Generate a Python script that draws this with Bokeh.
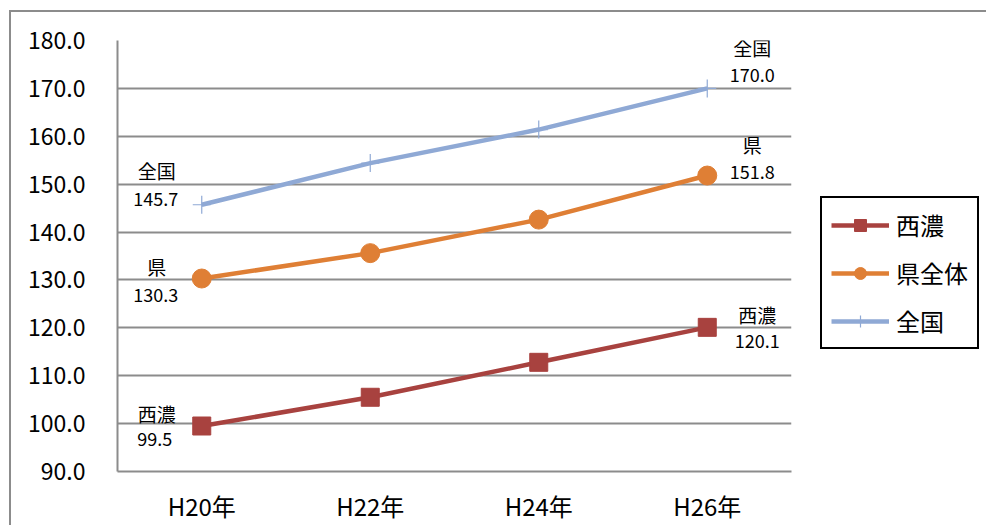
from bokeh.plotting import figure
from bokeh.models import (FactorRange, Range1d, FixedTicker, NumeralTickFormatter,
                          Legend, LegendItem, ColumnDataSource)
from bokeh.core.properties import value
from bokeh.embed import file_html
from bokeh.resources import INLINE

# ---- data ----
years = ["H20年", "H22年", "H24年", "H26年"]
seino = [99.5, 105.5, 112.8, 120.1]
ken = [130.3, 135.6, 142.6, 151.8]
zenkoku = [145.7, 154.4, 161.4, 170.0]
y_ticks = [90, 100, 110, 120, 130, 140, 150, 160, 170, 180]

series_names = ["西濃", "県全体", "全国"]
label_names = ["西濃", "県", "全国"]

JP = "Noto Sans CJK JP"

p = figure(x_range=FactorRange(factors=years), y_range=Range1d(90, 180),
           frame_width=674, frame_height=431,
           min_border_left=106, min_border_right=190, min_border_top=28, min_border_bottom=40,
           output_backend="svg", toolbar_location=None)
p.styles = {"border-left": "2px solid #8c8c8c", "border-top": "2px solid #8c8c8c",
            "margin-left": "9px", "margin-top": "10px"}
p.outline_line_color = None
p.background_fill_color = "white"
p.border_fill_color = "white"

# axes
p.yaxis.ticker = FixedTicker(ticks=y_ticks)
p.yaxis.formatter = NumeralTickFormatter(format="0.0")
p.yaxis.major_label_text_font = JP
p.yaxis.major_label_text_font_size = "23px"
p.yaxis.major_label_text_color = "black"
p.yaxis.major_tick_out = 0
p.yaxis.major_tick_in = 0
p.yaxis.minor_tick_out = 0
p.yaxis.minor_tick_in = 0
p.yaxis.major_label_standoff = 32
p.yaxis.axis_line_color = "#8c8c8c"
p.yaxis.axis_line_width = 2

p.xaxis.major_label_text_font = JP
p.xaxis.major_label_text_font_size = "24px"
p.xaxis.major_label_text_color = "black"
p.xaxis.major_tick_out = 0
p.xaxis.major_tick_in = 0
p.xaxis.major_label_standoff = 16
p.xaxis.axis_line_color = "#8c8c8c"
p.xaxis.axis_line_width = 2

p.xgrid.grid_line_color = None
p.ygrid.grid_line_color = "#8c8c8c"
p.ygrid.grid_line_width = 2

colors = ["#A8423F", "#DF7F35", "#8FA9D5"]
markers = ["square", "circle", "cross"]
msizes = [18, 19, 18]
all_vals = [seino, ken, zenkoku]

items = []
for name, vals, c, m, ms in zip(series_names, all_vals, colors, markers, msizes):
    ln = p.line(x=years, y=vals, line_color=c, line_width=4.5)
    if m == "cross":
        sc = p.scatter(x=years, y=vals, marker=m, size=ms, line_color=c, line_width=1.2)
    else:
        sc = p.scatter(x=years, y=vals, marker=m, size=ms, fill_color=c, line_color=c)
    items.append(LegendItem(label=name, renderers=[ln, sc]))

# data labels (name + value) at first and last point
# style offsets in screen px: (name_dx, name_dy, value_dx, value_dy), dy positive = down
label_offsets = {
    ("西濃", 0): (-45, -13, -47, 13),
    ("県", 0): (-45, -12, -46, 16),
    ("全国", 0): (-45, -34, -46, -6),
    ("西濃", 3): (50, -13, 50, 14),
    ("県", 3): (45, -31, 45, -4),
    ("全国", 3): (45, -41, 45, -13),
}
lx, ly, lt, ldx, ldy = [], [], [], [], []
vx, vy, vt, vdx, vdy = [], [], [], [], []
for lname, vals in zip(label_names, all_vals):
    for idx in (0, 3):
        ndx, ndy, vdx_, vdy_ = label_offsets[(lname, idx)]
        lx.append(years[idx]); ly.append(vals[idx]); lt.append(lname)
        ldx.append(ndx); ldy.append(ndy)
        vx.append(years[idx]); vy.append(vals[idx]); vt.append(f"{vals[idx]:.1f}")
        vdx.append(vdx_); vdy.append(vdy_)

src_n = ColumnDataSource(dict(x=lx, y=ly, t=lt, dx=ldx, dy=ldy))
src_v = ColumnDataSource(dict(x=vx, y=vy, t=vt, dx=vdx, dy=vdy))
p.text(x="x", y="y", text="t", x_offset="dx", y_offset="dy", source=src_n,
       text_font=value(JP), text_font_size="19px", text_color="black",
       text_align="center", text_baseline="middle")
p.text(x="x", y="y", text="t", x_offset="dx", y_offset="dy", source=src_v,
       text_font=value(JP), text_font_size="18px", text_color="black",
       text_align="center", text_baseline="middle")

legend = Legend(items=items, location=(29, 122), orientation="vertical",
                label_text_font=JP, label_text_font_size="24px", label_text_color="black",
                glyph_width=58, glyph_height=30, label_height=30, label_standoff=7,
                spacing=13, padding=9, margin=0,
                border_line_color="black", border_line_width=2, border_line_alpha=1.0,
                background_fill_color="white", background_fill_alpha=1.0)
p.add_layout(legend, "right")

open("out.html", "w").write(file_html(p, INLINE))
